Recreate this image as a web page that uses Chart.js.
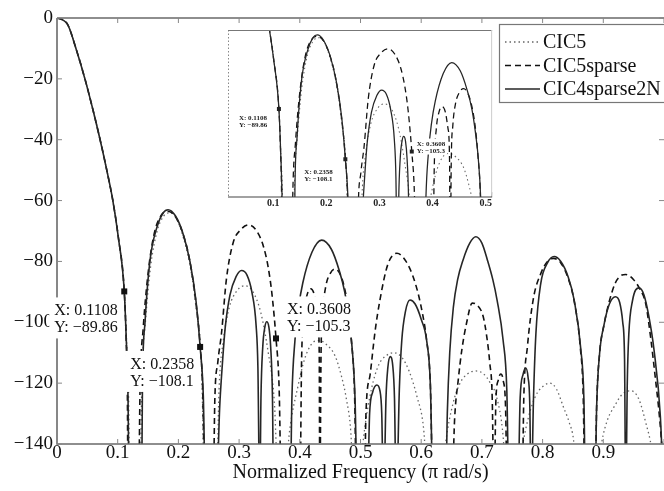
<!DOCTYPE html>
<html>
<head>
<meta charset="utf-8">
<script src="https://cdn.jsdelivr.net/npm/chart.js@4.4.0/dist/chart.umd.min.js"></script>
<style>
  html, body { margin: 0; padding: 0; background: #fff; }
  #wrap { position: relative; width: 664px; height: 491px; overflow: hidden; }
  #main { position: absolute; left: 0; top: 0; }
  #inset { position: absolute; left: 228px; top: 30px; }
</style>
</head>
<body>
<div id="wrap">
  <canvas id="main" width="664" height="491"></canvas>
  <canvas id="inset" width="265" height="185"></canvas>
</div>
<script>
// series names (legend order)
var seriesNames = ['CIC5', 'CIC5sparse', 'CIC4sparse2N'];

// CIC4sparse2N (solid)
var solidX = [0, 0.01, 0.018, 0.032, 0.046, 0.059, 0.071, 0.082, 0.092, 0.101, 0.1108, 0.114, 0.117, 0.119,
  0.139, 0.141, 0.145, 0.153, 0.165, 0.175, 0.183, 0.195, 0.207, 0.219, 0.229, 0.2358, 0.241, 0.245,
  0.262, 0.268, 0.272, 0.277, 0.285, 0.295, 0.304, 0.313, 0.321, 0.328, 0.331, 0.334,
  0.336, 0.339, 0.3425, 0.3455, 0.349, 0.352, 0.355, 0.357,
  0.384, 0.387, 0.392, 0.398, 0.405, 0.42, 0.436, 0.452, 0.465, 0.474, 0.481, 0.486, 0.491, 0.495,
  0.511, 0.515, 0.520, 0.527, 0.532, 0.535, 0.538,
  0.542, 0.545, 0.549, 0.553, 0.556, 0.559,
  0.564, 0.568, 0.574, 0.5815, 0.590, 0.600, 0.609, 0.615, 0.620,
  0.640, 0.643, 0.647, 0.653, 0.660, 0.669, 0.680, 0.690, 0.700, 0.709, 0.718, 0.725, 0.735, 0.741, 0.745,
  0.759, 0.763, 0.768, 0.772, 0.776, 0.779, 0.781,
  0.785, 0.789, 0.797, 0.808, 0.819, 0.830, 0.842, 0.852, 0.863, 0.868, 0.871,
  0.886, 0.889, 0.894, 0.901, 0.910, 0.920, 0.927, 0.932, 0.935, 0.937,
  0.9395, 0.942, 0.948, 0.959, 0.967, 0.975, 0.9835, 0.994, 1.0];
var solidY = [0, -0.7, -2.3, -10.5, -20, -30, -40, -50, -60, -72, -89.86, -105, -125, -160,
  -160, -118, -100, -80, -68.5, -64, -63, -65, -70.5, -80, -93, -108.1, -124, -160,
  -160, -128, -115, -102, -91, -85, -83, -84.5, -90, -101, -115, -160,
  -125, -108, -101.5, -99.8, -101.5, -108, -125, -160,
  -160, -125, -106, -95, -87, -77, -73, -76, -83, -90, -99, -108, -125, -160,
  -160, -130, -123, -120.6, -122.5, -130, -160,
  -125, -115, -111.3, -114, -125, -160,
  -122, -106, -96.5, -92.7, -94, -99, -106, -120, -160,
  -160, -130, -110, -95, -86, -79.5, -74, -71.9, -74, -79.5, -86, -92.7, -106, -122, -160,
  -160, -125, -117, -115, -118, -128, -160,
  -125, -103.6, -87.2, -80.5, -78.4, -80, -85, -92.7, -109, -125, -160,
  -160, -128, -110, -101, -94, -91.6, -93.5, -100, -112, -160,
  -120, -104, -93, -88.7, -91, -98, -109, -131, -160];

// CIC5sparse (dashed)
var dashX = [0, 0.01, 0.018, 0.032, 0.046, 0.059, 0.071, 0.082, 0.092, 0.101, 0.1108, 0.114, 0.116, 0.117,
  0.134, 0.137, 0.142, 0.150, 0.160, 0.171, 0.182, 0.194, 0.206, 0.218, 0.228, 0.236, 0.240, 0.244,
  0.257, 0.260, 0.265, 0.271, 0.279, 0.290, 0.303, 0.316, 0.329, 0.340, 0.348, 0.354, 0.3608, 0.366, 0.370,
  0.400, 0.403, 0.407, 0.412, 0.418, 0.424, 0.429, 0.432, 0.433,
  0.435, 0.438, 0.443, 0.450, 0.458, 0.466, 0.474, 0.480, 0.485, 0.490, 0.494,
  0.506, 0.509, 0.516, 0.524, 0.532, 0.545, 0.560, 0.575, 0.590, 0.602, 0.609, 0.615, 0.620,
  0.650, 0.655, 0.661, 0.667, 0.675, 0.684, 0.693, 0.702, 0.708, 0.713, 0.717, 0.720,
  0.723, 0.727, 0.731, 0.735, 0.739, 0.742,
  0.766, 0.769, 0.775, 0.785, 0.797, 0.808, 0.818, 0.830, 0.842, 0.852, 0.862, 0.867, 0.870,
  0.886, 0.889, 0.894, 0.901, 0.910, 0.920, 0.928, 0.937, 0.950, 0.960, 0.970, 0.978, 0.985, 0.993, 1.0];
var dashY = [0, -0.7, -2.3, -10.5, -20, -30, -40, -50, -60, -72, -89.86, -106, -125, -160,
  -160, -120, -102, -84, -71, -65, -63.5, -65, -70, -79, -92, -108, -122, -160,
  -160, -125.5, -113, -103.6, -86, -74, -69.5, -68, -70, -75, -82, -90.5, -105.3, -122, -160,
  -160, -112, -97, -91, -89, -91, -97, -110, -160,
  -110, -96, -88, -84, -82.5, -84, -89, -96, -106, -122, -160,
  -160, -130, -117, -103, -92.7, -81, -77.3, -80, -87, -97, -106, -120, -160,
  -160, -132, -119, -109, -100, -93.7, -94.5, -98, -104.7, -113.4, -125, -160,
  -126, -119, -117, -119, -128, -160,
  -160, -125, -108, -92, -84, -80, -79, -80.5, -85.5, -93, -108, -125, -160,
  -160, -128, -110, -101, -93, -87, -84.8, -84.3, -86, -89, -94, -105, -117, -132, -150];

// CIC5 (dotted)
var dotX = [0, 0.01, 0.018, 0.032, 0.046, 0.059, 0.071, 0.082, 0.092, 0.101, 0.1108, 0.115, 0.118, 0.120,
  0.136, 0.140, 0.146, 0.154, 0.165, 0.176, 0.186, 0.197, 0.208, 0.219, 0.229, 0.238, 0.244,
  0.262, 0.267, 0.274, 0.284, 0.297, 0.310, 0.323, 0.336, 0.348, 0.358, 0.366,
  0.372, 0.383, 0.397, 0.408, 0.420, 0.432, 0.445, 0.458, 0.469, 0.477, 0.484, 0.490,
  0.495, 0.505, 0.518, 0.530, 0.542, 0.555, 0.568, 0.580, 0.593, 0.604, 0.613,
  0.630, 0.640, 0.652, 0.664, 0.676, 0.690, 0.703, 0.714, 0.724, 0.735, 0.742,
  0.755, 0.765, 0.777, 0.789, 0.801, 0.812, 0.823, 0.834, 0.844, 0.851, 0.860,
  0.885, 0.897, 0.907, 0.918, 0.932, 0.945, 0.958, 0.970, 0.980, 0.990];
var dotY = [0, -0.7, -2.3, -10.5, -20, -30, -40, -50, -60, -72, -89.86, -108, -125, -160,
  -160, -118, -99, -82, -70, -65, -64, -66, -72, -81, -95, -114, -160,
  -160, -122, -106, -95, -89.5, -88, -90, -97, -110, -126, -160,
  -160, -136, -121, -112, -107, -106, -107.5, -111, -118, -125.5, -136, -160,
  -160, -138, -122, -114, -111, -110, -111.5, -116, -124.4, -135, -160,
  -160, -140, -127, -120, -117, -116, -117, -120, -124.4, -137.6, -160,
  -160, -143, -131, -124, -121, -120, -122, -127.7, -133, -138.7, -160,
  -160, -140, -132, -127.7, -123.5, -122.5, -125, -133, -142, -160];

// axis ticks
var xTickValues = [0, 0.1, 0.2, 0.3, 0.4, 0.5, 0.6, 0.7, 0.8, 0.9, 1];
var xTickLabels = ['0', '0.1', '0.2', '0.3', '0.4', '0.5', '0.6', '0.7', '0.8', '0.9', ''];
var yTickValues = [0, -20, -40, -60, -80, -100, -120, -140];
var yTickLabels = ['0', '\u221220', '\u221240', '\u221260', '\u221280', '\u2212100', '\u2212120', '\u2212140'];
var insetTickValues = [0.1, 0.2, 0.3, 0.4, 0.5];
var insetTickLabels = ['0.1', '0.2', '0.3', '0.4', '0.5'];

// data tips
var tipX = [0.1108, 0.2358, 0.3608];
var tipY = [-89.86, -108.1, -105.3];

var SERIF = '"Liberation Serif", "Times New Roman", serif';

// where each tip box sits relative to its marker (main, then inset)
var tipBox = [[-75, 6], [-75, 4], [6, -42]];
var insetTipBox = [[-40, 4], [-41, 8], [5, -13]];

function pts(xs, ys) {
  return xs.map(function(x, i) { return { x: x, y: ys[i] }; });
}

function makeSets(w) {
  return [
    { label: seriesNames[2], data: pts(solidX, solidY), borderColor: '#262626', borderWidth: w * 1.6, order: 0 },
    { label: seriesNames[1], data: pts(dashX, dashY), borderColor: '#111', borderWidth: w * 1.6, borderDash: [6, 4], order: 1 },
    { label: seriesNames[0], data: pts(dotX, dotY), borderColor: '#666', borderWidth: w * 1.3, borderDash: [1.5, 3], order: 2 }
  ].map(function(d) {
    d.pointRadius = 0; d.fill = false; d.cubicInterpolationMode = 'monotone';
    return d;
  });
}

function fmt(v) { return String(v).replace('-', '\u2212'); }

var framePlugin = {
  id: 'frame',
  afterDatasetsDraw: function(chart) {
    var ctx = chart.ctx, a = chart.chartArea, x = chart.scales.x, y = chart.scales.y;
    ctx.save();
    ctx.strokeStyle = '#6a6a6a';
    ctx.lineWidth = 1.6;
    ctx.beginPath();
    ctx.moveTo(a.left, a.top); ctx.lineTo(a.right, a.top);
    ctx.moveTo(a.left, a.top); ctx.lineTo(a.left, a.bottom); ctx.lineTo(a.right, a.bottom);
    ctx.stroke();
    ctx.lineWidth = 1;
    ctx.strokeStyle = '#888';
    ctx.beginPath();
    xTickValues.forEach(function(v) {
      var px = x.getPixelForValue(v);
      ctx.moveTo(px, a.bottom); ctx.lineTo(px, a.bottom - 5);
      ctx.moveTo(px, a.top); ctx.lineTo(px, a.top + 5);
    });
    yTickValues.forEach(function(v) {
      var py = y.getPixelForValue(v);
      ctx.moveTo(a.left, py); ctx.lineTo(a.left + 5, py);
      ctx.moveTo(a.right, py); ctx.lineTo(a.right - 5, py);
    });
    ctx.stroke();
    ctx.restore();
  }
};

var tipsPlugin = {
  id: 'tips',
  afterDraw: function(chart) {
    var ctx = chart.ctx, x = chart.scales.x, y = chart.scales.y;
    ctx.save();
    ctx.font = '16px ' + SERIF;
    ctx.textBaseline = 'alphabetic';
    tipX.forEach(function(v, i) {
      var mx = x.getPixelForValue(v), my = y.getPixelForValue(tipY[i]);
      var l1 = 'X: ' + v, l2 = 'Y: ' + fmt(tipY[i]);
      var w = Math.max(ctx.measureText(l1).width, ctx.measureText(l2).width) + 9;
      var bx = mx + tipBox[i][0], by = my + tipBox[i][1];
      ctx.fillStyle = '#fff';
      ctx.fillRect(bx, by, w, 41);
      ctx.fillStyle = '#111';
      ctx.fillText(l1, bx + 5, by + 18);
      ctx.fillText(l2, bx + 5, by + 35);
      ctx.fillRect(mx - 3, my - 3, 6, 6);
    });
    ctx.restore();
  }
};

var legendPlugin = {
  id: 'box',
  afterDraw: function(chart) {
    var ctx = chart.ctx;
    var sets = chart.data.datasets.slice().reverse();
    ctx.save();
    ctx.fillStyle = '#fff';
    ctx.fillRect(499, 24, 170, 78);
    ctx.strokeStyle = '#777';
    ctx.lineWidth = 1.2;
    ctx.strokeRect(499.5, 24.5, 170, 78);
    ctx.font = '20px ' + SERIF;
    ctx.textBaseline = 'middle';
    sets.forEach(function(d, i) {
      var cy = 42 + i * 23.5;
      ctx.strokeStyle = d.borderColor;
      ctx.lineWidth = d.borderWidth;
      ctx.setLineDash(d.borderDash || []);
      ctx.beginPath();
      ctx.moveTo(505, cy); ctx.lineTo(540, cy);
      ctx.stroke();
      ctx.setLineDash([]);
      ctx.fillStyle = '#111';
      ctx.fillText(d.label, 543, cy + 1);
    });
    ctx.restore();
  }
};

new Chart(document.getElementById('main'), {
  type: 'line',
  data: { datasets: makeSets(1) },
  options: {
    responsive: false,
    animation: false,
    events: [],
    layout: { padding: { top: 18, right: 0, left: 0, bottom: 0 } },
    plugins: { legend: { display: false }, tooltip: { enabled: false } },
    scales: {
      x: {
        type: 'linear', min: 0, max: 1,
        afterFit: function(s) { s.height = 47; },
        afterBuildTicks: function(s) { s.ticks = xTickValues.map(function(v) { return { value: v }; }); },
        grid: { display: false, drawTicks: false }, border: { display: false },
        ticks: {
          autoSkip: false, maxRotation: 0, padding: 0, color: '#111',
          font: { family: SERIF, size: 19, lineHeight: 1 },
          callback: function(v, i) { return xTickLabels[i]; }
        },
        title: {
          display: true, text: 'Normalized Frequency (\u03c0 rad/s)', color: '#111',
          font: { family: SERIF, size: 20, lineHeight: 1.2 }, padding: { top: 0, bottom: 6 }
        }
      },
      y: {
        min: -140, max: 0,
        afterFit: function(s) { s.width = 57; },
        afterBuildTicks: function(s) { s.ticks = yTickValues.map(function(v) { return { value: v }; }); },
        grid: { display: false, drawTicks: false }, border: { display: false },
        ticks: {
          padding: 4, color: '#111',
          font: { family: SERIF, size: 19, lineHeight: 1 },
          callback: function(v, i) { return yTickLabels[i]; }
        }
      }
    }
  },
  plugins: [framePlugin, tipsPlugin, legendPlugin]
});

var insetFrame = {
  id: 'insetFrame',
  beforeDraw: function(chart) {
    var ctx = chart.ctx;
    ctx.save();
    ctx.fillStyle = '#fff';
    ctx.fillRect(0, 0, chart.width, chart.height);
    ctx.restore();
  },
  afterDraw: function(chart) {
    var ctx = chart.ctx, a = chart.chartArea, x = chart.scales.x, y = chart.scales.y;
    ctx.save();
    ctx.strokeStyle = '#888';
    ctx.lineWidth = 1;
    ctx.setLineDash([1.5, 2]);
    ctx.beginPath();
    ctx.moveTo(a.left + 0.5, a.top); ctx.lineTo(a.left + 0.5, a.bottom);
    ctx.stroke();
    ctx.setLineDash([]);
    ctx.strokeStyle = '#777';
    ctx.beginPath();
    ctx.moveTo(a.left, a.top + 0.5); ctx.lineTo(a.right, a.top + 0.5);
    ctx.stroke();
    ctx.strokeStyle = '#ccc';
    ctx.beginPath();
    ctx.moveTo(a.right - 0.5, a.top); ctx.lineTo(a.right - 0.5, a.bottom);
    ctx.stroke();
    ctx.strokeStyle = '#444';
    ctx.lineWidth = 1.2;
    ctx.beginPath();
    ctx.moveTo(a.left, a.bottom); ctx.lineTo(a.right, a.bottom);
    ctx.stroke();
    ctx.font = 'bold 7px ' + SERIF;
    tipX.forEach(function(v, i) {
      var mx = x.getPixelForValue(v), my = y.getPixelForValue(tipY[i]);
      var l1 = 'X: ' + v, l2 = 'Y: ' + fmt(tipY[i]);
      var bx = mx + insetTipBox[i][0], by = my + insetTipBox[i][1];
      var w = Math.max(ctx.measureText(l1).width, ctx.measureText(l2).width) + 3;
      ctx.fillStyle = '#fff';
      ctx.fillRect(bx - 1, by, w, 16);
      ctx.fillStyle = '#222';
      ctx.fillText(l1, bx, by + 7);
      ctx.fillText(l2, bx, by + 14);
      ctx.fillRect(mx - 2, my - 2, 4, 4);
    });
    ctx.restore();
  }
};

new Chart(document.getElementById('inset'), {
  type: 'line',
  data: { datasets: makeSets(0.8) },
  options: {
    responsive: false,
    animation: false,
    events: [],
    layout: { padding: 0 },
    plugins: { legend: { display: false }, tooltip: { enabled: false } },
    scales: {
      x: {
        type: 'linear', min: 0.015, max: 0.512,
        afterFit: function(s) { s.height = 18; },
        afterBuildTicks: function(s) { s.ticks = insetTickValues.map(function(v) { return { value: v }; }); },
        grid: { display: false, drawTicks: false }, border: { display: false },
        ticks: {
          autoSkip: false, maxRotation: 0, padding: 1, color: '#222',
          font: { family: SERIF, size: 10, weight: 'bold', lineHeight: 1 },
          callback: function(v, i) { return insetTickLabels[i]; }
        }
      },
      y: { display: false, min: -121.8, max: -61.2 }
    }
  },
  plugins: [insetFrame]
});
</script>
</body>
</html>
